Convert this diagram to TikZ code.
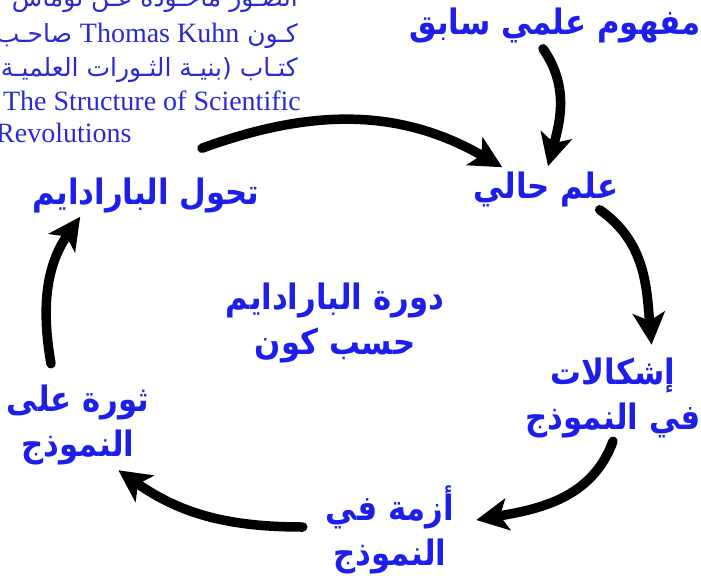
\documentclass[tikz,border=0pt]{standalone}
\usepackage{fontspec}
\setmainfont{Liberation Serif}
\newfontfamily\arabicfont[Script=Arabic]{DejaVu Sans}
\newfontfamily\stagefont[Script=Arabic,FakeStretch=0.88]{DejaVu Sans}
\TeXXeTstate=1
\usetikzlibrary{arrows.meta}
\definecolor{kuhnblue}{HTML}{1E1EEB}
\definecolor{noteblue}{HTML}{2A2AD2}
\newcommand{\rtl}[1]{\beginR#1\endR}
\tikzset{
  >=Stealth,
  stage/.style={text=kuhnblue,align=center,inner sep=1pt,
                font=\stagefont\bfseries\fontsize{35}{45}\selectfont},
  noteline/.style={text=noteblue,inner sep=0pt,
                   font=\fontsize{28}{30}\selectfont},
  notear/.style={noteline,font=\arabicfont\fontsize{25}{30}\selectfont},
  arr/.style={-{Stealth[length=32pt,width=32pt,inset=8pt]},
              line width=9.5pt,line cap=round},
}

\begin{document}
\begin{tikzpicture}[x=1pt,y=1pt]
    \useasboundingbox (0,0) rectangle (701,-578);
    \clip (0,0) rectangle (701,-578);

    % Source note, cut at the top and left edges
    \node[notear,anchor=base east] (note1) at (298,-7)
          {\rtl{الصـور مأخـوذة عـن توماس}};
    \node[notear,anchor=base east] (note2) at (298,-43)
          {\rtl{كـون \beginL{\rmfamily\fontsize{28}{30}\selectfont Thomas Kuhn}\endL{} صاحـب}};
    \node[notear,anchor=base east] (note3) at (298,-76)
          {\rtl{كتـاب (بنيـة الثـورات العلميـة)}};
    \node[noteline,anchor=base east] (note4) at (301,-110)
          {The Structure of Scientific};
    \node[noteline,anchor=base west] (note5) at (-4,-142)
          {Revolutions};

    % Stages of the cycle
    \node[stage] (prior)   at (555,-26)  {\rtl{مفهوم علمي سابق}};
    \node[stage] (current) at (546,-189) {\rtl{علم حالي}};
    \node[stage] (shift)   at (146,-195) {\rtl{تحول البارادايم}};
    \node[stage] (anomaly) at (613,-398) {\rtl{إشكالات}\\\rtl{في النموذج}};
    \node[stage] (crisis)  at (390,-530) {\rtl{أزمة في}\\\rtl{النموذج}};
    \node[stage] (revol)   at (78,-425)  {\rtl{ثورة على}\\\rtl{النموذج}};

    % Title in the middle
    \node[stage] (title) at (335,-323) {\rtl{دورة البارادايم}\\\rtl{حسب كون}};

    % Arrows
    \draw[arr] ([xshift=-12pt,yshift=-4pt]prior.south)
               to[out=-55,in=75] ([xshift=2pt,yshift=4pt]current.north);
    \draw[arr] ([xshift=56pt,yshift=28pt]shift.north)
               to[out=20,in=150] ([xshift=30pt,yshift=3pt]current.north west);
    \draw[arr] ([xshift=-20pt,yshift=-2pt]current.south east)
               to[out=-35,in=95] ([xshift=-50pt,yshift=12pt]anomaly.north east);
    \draw[arr] ([yshift=-2pt]anomaly.south)
               to[out=-110,in=10] ([xshift=21pt,yshift=10pt]crisis.east);
    \draw[arr] ([xshift=-22pt,yshift=3pt]crisis.west)
               to[out=180,in=-35] ([xshift=-32pt,yshift=-4pt]revol.south east);
    \draw[arr] ([xshift=-27pt,yshift=20pt]revol.north)
               to[out=100,in=-125] ([xshift=49pt,yshift=-3pt]shift.south west);
\end{tikzpicture}
\end{document}
